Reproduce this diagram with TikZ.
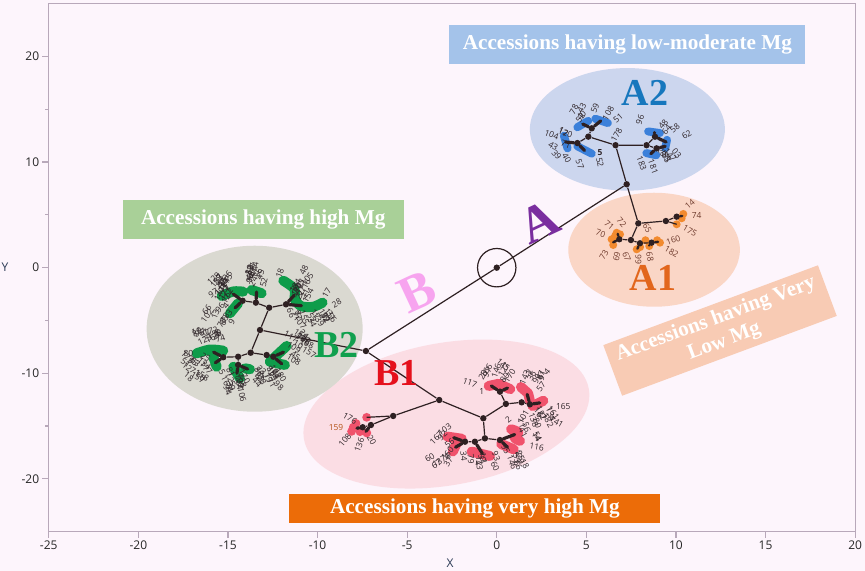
\documentclass[tikz,border=0pt]{standalone}
\usepackage{fontspec}
\setmainfont{Liberation Serif}
\newfontfamily\uifont{Open Sans}
\definecolor{bgpink}{HTML}{FDF5FC}
\definecolor{framecol}{HTML}{B8A8BA}
\definecolor{treecol}{HTML}{2E2022}
\definecolor{a2fill}{HTML}{CCD6EE}
\definecolor{a1fill}{HTML}{FAD6C6}
\definecolor{b2fill}{HTML}{DAD9D1}
\definecolor{b1fill}{HTML}{FBDDE4}
\definecolor{blueleaf}{HTML}{3B80DA}
\definecolor{orangeleaf}{HTML}{F28A2E}
\definecolor{greenleaf}{HTML}{0E9C4A}
\definecolor{pinkleaf}{HTML}{F0526C}
\definecolor{bluebox}{HTML}{A4C3EA}
\definecolor{greenbox}{HTML}{A9D098}
\definecolor{orangebox}{HTML}{EC6C08}
\definecolor{peachbox}{HTML}{F8CBB4}
\definecolor{a2col}{HTML}{1677BD}
\definecolor{a1col}{HTML}{E2661C}
\definecolor{b2col}{HTML}{10A04E}
\definecolor{b1col}{HTML}{E5101C}
\definecolor{acol}{HTML}{7A2E9F}
\definecolor{bcol}{HTML}{F7A4EF}
\definecolor{labcol}{HTML}{2E2428}
\definecolor{a1lab}{HTML}{6E3A2C}
\definecolor{axiscol}{HTML}{2B3A55}
\begin{document}
\begin{tikzpicture}[x=8.96pt,y=5.28pt,
    jdot/.style={circle,fill=treecol,inner sep=0pt,minimum size=3.2pt},
    branch/.style={draw=treecol,line width=0.6pt},
    spine/.style={draw=treecol,line width=1.6pt,line cap=round},
    blob/.style={line width=4pt,line cap=round,line join=round},
    leaflab/.style={font=\uifont\fontsize{4.2}{4.2}\selectfont,text=labcol,inner sep=0pt},
    ticklab/.style={font=\uifont\fontsize{6}{7}\selectfont,text=black!85,inner sep=1pt},
    clustername/.style={font=\bfseries\fontsize{19}{19}\selectfont,inner sep=0pt},
    groupname/.style={font=\bfseries\fontsize{26}{26}\selectfont,inner sep=0pt,rotate=25},
    notebox/.style={font=\bfseries\fontsize{10.6}{12}\selectfont,text=white,inner sep=0pt,align=center}]

% background and frame
\fill[bgpink] (-27.72,-28.72) rectangle (20.55,25.35);
\useasboundingbox (-27.72,-28.72) rectangle (20.55,25.35);
\draw[framecol,line width=0.6pt] (-25,-25) rectangle (20,25);
\foreach \v in {-25,-20,...,20}
    \draw[framecol,line width=0.6pt] (\v,-25)--(\v,-25.6) node[below,ticklab]{\v};
\foreach \v in {-20,-10,...,20}
    \draw[framecol,line width=0.6pt] (-25,\v)--(-25.39,\v) node[left,ticklab]{\v};
\foreach \v in {-15,-5,5,15}
    \draw[framecol,line width=0.6pt] (-25,\v)--(-25.2,\v);
\node[ticklab,text=axiscol] (xname) at (-2.61,-27.97) {X};
\node[ticklab,text=axiscol] (yname) at (-27.44,0) {Y};

% cluster areas
\fill[b1fill, rotate around={10:(-2.81,-13.86)}] (-2.81,-13.86) ellipse [x radius=72.3pt, y radius=35.6pt];
\fill[b2fill] (-13.51,-5.78) ellipse [x radius=54pt, y radius=41.5pt];
\fill[a2fill] (7.29,13.1) ellipse [x radius=48.75pt, y radius=30.65pt];
\fill[a1fill] (8.78,1.7) ellipse [x radius=42.9pt, y radius=28.5pt];

% notes
\node[notebox,fill=bluebox,minimum width=178pt,minimum height=19.5pt] (lowmod) at (7.29,21.14) {Accessions having low-moderate Mg};
\node[notebox,fill=greenbox,minimum width=140.5pt,minimum height=19.5pt] (high) at (-13.03,4.55) {Accessions having high Mg};
\node[notebox,fill=orangebox,minimum width=185.5pt,minimum height=14.35pt] (veryhigh) at (-1.22,-22.78) {Accessions having very high Mg};
\node[notebox,fill=peachbox,minimum width=114.5pt,minimum height=27pt,rotate=20.4] (verylow) at (12.46,-5.95) {Accessions having Very\\Low Mg};

% leaves
\draw[blob,blueleaf] (4.5,13.3)--(5.1,13.9);
\draw[blob,blueleaf] (5.5,14.1)--(6.2,13.7);
\draw[blob,blueleaf] (3.75,12.5)--(3.95,11.3);
\draw[blob,blueleaf] (4.5,11.5)--(5.3,10.8);
\draw[blob,blueleaf] (8.45,12.9)--(9.1,12.75);
\draw[blob,blueleaf] (9.5,12.1)--(9.4,11.3);
\draw[blob,blueleaf] (8.35,10.85)--(8.9,10.65);
\foreach \p in {(10.41,5.09),(10.32,4.68),(10.04,4.11),(6.69,3.31),(6.88,3.16),(6.41,2.69),(6.50,2.15),(6.6,3.0),
    (7.81,1.74),(8.0,1.95),(8.51,2.05),(9.11,2.37),(8.95,2.6),(8.3,2.6)}
    \fill[orangeleaf] \p circle (2pt);
\draw[blob,greenleaf,line width=5pt] plot[smooth] coordinates {(-15.35,-2.68) (-14.7,-2.25) (-14.15,-2.27)};
\draw[blob,greenleaf,line width=5pt] (-14.89,-4.32)--(-14.43,-3.37);
\draw[blob,greenleaf,line width=5pt] (-13.68,-2.11)--(-13.12,-2.42);
\draw[blob,greenleaf,line width=5pt] plot[smooth] coordinates {(-11.91,-1.23) (-11.3,-2.0) (-11.26,-3.0) (-10.9,-3.65) (-10.24,-3.7) (-9.72,-3.31)};
\draw[blob,greenleaf,line width=5pt] plot[smooth] coordinates {(-16.75,-8.11) (-16.0,-7.75) (-15.26,-7.86)};
\draw[blob,greenleaf,line width=5pt] (-15.82,-8.43)--(-15.63,-9.38);
\draw[blob,greenleaf,line width=5pt] (-14.70,-9.38)--(-14.33,-10.47);
\draw[blob,greenleaf,line width=5pt] (-14.05,-9.53)--(-13.77,-9.62);
\draw[blob,greenleaf,line width=5pt] (-11.72,-7.41)--(-12.66,-8.90)--(-11.82,-9.21);
\foreach \p in {(-7.26,-14.17),(-8.01,-15.11),(-7.63,-15.53),(-7.25,-15.65),(-7.85,-14.75),(-8.1,-15.5)}
    \fill[pinkleaf] \p circle (2.2pt);
\draw[blob,pinkleaf,line width=5pt] (-0.45,-11.2)--(0.1,-11.0)--(0.75,-11.5);
\draw[blob,pinkleaf,line width=5pt] (1.35,-11.3)--(1.75,-11.9)--(1.85,-12.6);
\draw[blob,pinkleaf,line width=5pt] (2.0,-13.1)--(2.6,-12.6);
\draw[blob,pinkleaf,line width=5pt] (-2.75,-16.0)--(-1.95,-16.2);
\draw[blob,pinkleaf,line width=5pt] (-2.2,-16.5)--(-2.45,-17.4);
\draw[blob,pinkleaf,line width=5pt] (-1.40,-17.42)--(-0.38,-17.83);
\draw[blob,pinkleaf,line width=5pt] plot[smooth] coordinates {(0.8,-15.3) (1.2,-15.6) (1.0,-16.1) (1.3,-16.4)};
\draw[blob,pinkleaf,line width=5pt] (0.25,-16.7)--(0.95,-17.2);

% tree
\node[jdot] (o) at (0,0) {};
\node[draw=treecol,line width=0.6pt,circle,minimum size=19.2pt,inner sep=0pt] (ring) at (o) {};
\node[jdot] (a) at (7.25,7.9) {};
\node[jdot] (b) at (-7.3,-7.89) {};
\node[jdot] (a2) at (6.63,11.6) {};
\node[jdot] (a2l) at (5.11,12.41) {};
\node[jdot] (a2la) at (5.3,13.2) {};
\node[jdot] (a2lb) at (4.5,11.8) {};
\node[jdot] (a2r) at (8.36,11.6) {};
\node[jdot] (a2ra) at (8.83,12.4) {};
\node[jdot] (a2rb) at (8.92,11.3) {};
\node[jdot] (a1) at (7.9,4.2) {};
\node[jdot] (a1r) at (9.44,4.42) {};
\node[jdot] (a1rr) at (10.04,4.83) {};
\node[jdot] (a1d) at (7.49,2.62) {};
\node[jdot] (a1dl) at (6.84,2.69) {};
\node[jdot] (a1dr) at (7.99,2.31) {};
\node[jdot] (a1drr) at (8.64,2.37) {};
\node[jdot] (b2) at (-13.21,-5.9) {};
\node[jdot] (b2u) at (-12.70,-3.79) {};
\node[jdot] (b2ul) at (-13.44,-3.31) {};
\node[jdot] (b2ull) at (-14.18,-3.13) {};
\node[jdot] (b2ur) at (-11.76,-3.47) {};
\node[jdot] (b2d) at (-13.73,-8.05) {};
\node[jdot] (b2dl) at (-14.43,-8.43) {};
\node[jdot] (b2dll) at (-15.26,-8.48) {};
\node[jdot] (b2dld) at (-14.43,-9.21) {};
\node[jdot] (b2dr) at (-12.84,-8.27) {};
\node[jdot] (b2drr) at (-12.47,-8.43) {};
\node[jdot] (b1) at (-3.21,-12.53) {};
\node[jdot] (b1l) at (-5.78,-14.04) {};
\node[jdot] (b1la) at (-7.02,-14.9) {};
\node[jdot] (b1lb) at (-7.48,-15.11) {};
\node[jdot] (b1r) at (-0.75,-14.26) {};
\node[jdot] (b1ru) at (0.51,-12.9) {};
\node[jdot] (b1rua) at (0.18,-11.74) {};
\node[jdot] (b1rub) at (1.39,-12.75) {};
\node[jdot] (b1rubb) at (1.85,-12.94) {};
\node[jdot] (b1rd) at (-0.66,-16.16) {};
\node[jdot] (b1rda) at (-1.22,-16.48) {};
\node[jdot] (b1rdaa) at (-1.77,-16.48) {};
\node[jdot] (b1rdb) at (0.18,-16.32) {};

\draw[branch] (b)--(o)--(a);
\draw[branch] (a)--(a2)--(a2l)--(a2la) (a2l)--(a2lb) (a2)--(a2r)--(a2ra) (a2r)--(a2rb);
\draw[branch] (a)--(a1)--(a1r)--(a1rr) (a1)--(a1d)--(a1dl) (a1d)--(a1dr)--(a1drr);
\draw[branch] (b)--(b2)--(b2u)--(b2ul)--(b2ull) (b2u)--(b2ur) (b2)--(b2d)--(b2dl)--(b2dll) (b2dl)--(b2dld) (b2d)--(b2dr)--(b2drr);
\draw[branch] (b)--(b1)--(b1l)--(b1la)--(b1lb) (b1)--(b1r)--(b1ru)--(b1rua) (b1ru)--(b1rub)--(b1rubb)
    (b1r)--(b1rd)--(b1rda)--(b1rdaa) (b1rd)--(b1rdb);
\draw[branch] (b1l)--(-7.26,-14.17) (a1r)--(10.04,4.11);

% leaf spines
\draw[spine] (a2la)--(4.8,13.6) (a2la)--(5.8,13.9) (a2lb)--(3.85,11.9) (a2lb)--(4.9,11.1)
    (a2ra)--(8.8,12.8) (a2ra)--(9.45,11.9) (a2rb)--(9.4,11.5) (a2rb)--(8.6,10.8);
\draw[spine,line width=1.2pt] (a1dl)--(6.5,2.4) (a1dl)--(6.75,3.2) (a1dr)--(7.85,1.8) (a1drr)--(9.0,2.45) (a1drr)--(8.5,2.1) (a1rr)--(10.35,4.9);
\draw[spine] (b2ull)--(-14.7,-2.5) (b2ull)--(-14.6,-3.8) (b2ul)--(-13.4,-2.3) (b2ur)--(-11.3,-2.6) (b2ur)--(-10.9,-3.6)
    (b2dll)--(-15.8,-8.0) (b2dll)--(-15.7,-9.0) (b2dld)--(-14.5,-10.0) (b2dld)--(-13.9,-9.6) (b2drr)--(-11.9,-8.0) (b2drr)--(-12.0,-9.1);
\draw[spine] (b1lb)--(-7.8,-15.2) (b1la)--(-7.3,-15.5) (b1rua)--(0.6,-11.4) (b1rua)--(-0.3,-11.2) (b1rubb)--(1.7,-12.0) (b1rubb)--(2.4,-12.8)
    (b1rdaa)--(-2.4,-16.1) (b1rdaa)--(-2.3,-17.0) (b1rda)--(-0.8,-17.6) (b1rdb)--(1.0,-15.8) (b1rdb)--(0.6,-17.0);

% leaf numbers
\foreach \x/\y/\rot/\lab in {3.06/12.57/-20/104, 3.15/11.52/-30/43, 3.34/10.67/-50/39, 3.90/10.36/-60/40, 4.64/9.79/-70/57,
    5.76/9.98/-80/52, 5.48/15.09/70/59, 4.74/15.09/60/43, 6.22/14.62/60/108, 6.78/14.15/40/51, 6.69/12.57/60/178,
    7.99/13.99/70/96, 9.29/13.58/50/48, 9.48/13.04/50/64, 9.94/13.2/40/58, 10.6/12.57/30/62,
    8.09/9.89/-70/183, 8.73/9.56/-70/181, 9.48/10.51/-60/89, 10.04/10.83/-50/03,
    -1.50/-10.89/-20/117, -0.84/-11.74/0/1, 0.36/-9.21/-40/145, 3.71/-13.16/0/165, 0.64/-14.42/40/2, 1.48/-14.11/60/101,
    3.34/-14.58/-30/141, 2.23/-16.95/-10/116, -2.71/-18.37/60/37, -8.19/-14.26/-30/176, -8.47/-16.32/50/108,
    -7.67/-16.79/70/136, -6.98/-16.32/-60/20,
    -15.82/-2.42/30/97, -15.35/-5.21/60/78, -14.79/-5.11/60/9, -12.10/-0.53/70/18, -13.31/-0.53/70/56, -9.49/-2.42/60/17,
    -8.93/-3.37/30/28, -17.21/-8.11/0/80, -16.94/-8.90/-40/75, -13.12/-9.69/-40/23, -14.89/-11.58/-70/4}
    \node[leaflab,rotate=\rot] at (\x,\y) {\lab};
\node[leaflab] at (5.76,10.93) {\textbf{5}};
\node[leaflab,text=a1col!80!black] at (-8.97,-15.11) {159};
\foreach \x/\y/\rot/\lab in {10.78/6.03/40/14, 11.15/4.9/0/74, 10.78/3.5/-30/175, 9.85/2.62/20/160, 9.76/1.52/-30/182,
    8.40/3.73/-60/65, 6.97/4.26/-50/72, 6.28/4.04/-40/71, 5.80/3.26/-20/70, 5.98/1.2/60/73, 6.69/1.04/80/69,
    7.25/1.04/-70/67, 7.90/0.8/90/66, 8.55/1.04/-80/68}
    \node[leaflab,text=a1lab,rotate=\rot] at (\x,\y) {\lab};
\pgfmathsetseed{7}
\foreach \cx/\cy/\rx/\ry/\rot/\n in {-15.35/-1.6/0.6/0.7/50/11, -13.6/-0.8/0.8/0.7/70/11, -10.8/-1.4/0.5/1.3/60/12,
    -10.4/-4.8/1.2/0.6/-60/14, -15.6/-3.7/0.6/1.3/60/11, -16.1/-6.6/0.7/0.7/20/11, -16.8/-9.4/0.6/1.0/-40/11,
    -14.7/-10.9/0.8/1.3/-70/13, -12.7/-10.4/1.0/0.9/-50/13, -11.0/-7.5/0.6/1.3/-30/12,
    0/-10.0/0.8/0.7/60/7, 2.1/-10.5/0.9/1.0/60/8, 2.7/-14.1/0.6/0.9/-60/7, 1.8/-15.3/0.5/0.9/-60/6,
    0.8/-18.0/1.1/0.9/-70/9, -1.2/-18.3/0.7/0.9/-80/7, -3.2/-16.7/0.6/2.0/40/9,
    3.5/12.0/0.4/1.2/-30/3, 4.6/14.6/0.5/0.6/60/3, 9.6/10.4/0.5/0.6/-60/3}
    \foreach \k in {1,...,\n}{
        \pgfmathsetmacro\px{\cx+\rx*rand}
        \pgfmathsetmacro\py{\cy+\ry*rand}
        \pgfmathsetmacro\pr{\rot+12*rand}
        \pgfmathtruncatemacro\pn{random(1,185)}
        \node[leaflab,rotate=\pr] at (\px,\py) {\pn};
    }

% cluster names
\node[clustername,text=a2col] (labA2) at (8.28,16.52) {A2};
\node[clustername,text=a1col] (labA1) at (8.72,-0.95) {A1};
\node[clustername,text=b2col] (labB2) at (-8.93,-7.32) {B2};
\node[clustername,text=b1col] (labB1) at (-5.59,-10.0) {B1};
\node[groupname,text=acol] (labA) at (2.36,4.33) {A};
\node[groupname,text=bcol] (labB) at (-4.47,-2.30) {B};
\end{tikzpicture}
\end{document}
